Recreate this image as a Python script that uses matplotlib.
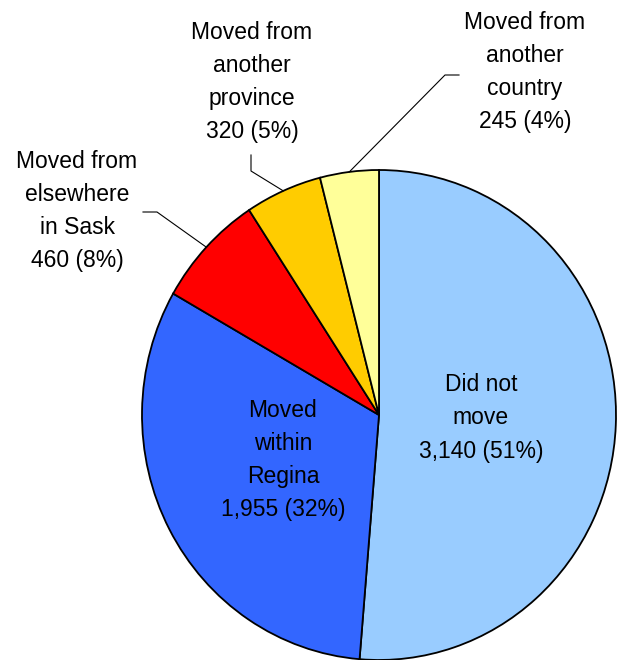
import numpy as np
import matplotlib
matplotlib.use('Agg')
import matplotlib.pyplot as plt

plt.rcParams['font.family'] = ['Liberation Sans', 'DejaVu Sans']

labels = ['Did not\nmove', 'Moved\nwithin\nRegina', 'Moved from\nelsewhere\nin Sask',
          'Moved from\nanother\nprovince', 'Moved from\nanother\ncountry']
values = [3140, 1955, 460, 320, 245]
colors = ['#99CCFF', '#3366FF', '#FF0000', '#FFCC00', '#FFFF99']

total = sum(values)
texts = []
for lab, v in zip(labels, values):
    texts.append(f"{lab}\n{v:,} ({round(v / total * 100)}%)")

fig = plt.figure(figsize=(6.18, 6.6), dpi=100)
# axes sized in pixels so the pie lands where the original is
ax = fig.add_axes([142 / 618, 0, 474 / 618, 490 / 660])
wedges, _ = ax.pie(values, colors=colors, startangle=90, counterclock=False,
                   wedgeprops=dict(edgecolor='black', linewidth=1.3))
ax.set_aspect('auto')
ax.set_xlim(-1, 1)
ax.set_ylim(-1, 1)
ax.axis('off')
for w in wedges:
    w.set_clip_on(False)

fs = 16.5
ls = 1.56

def px(x, y):
    # pixel position in the picture -> data coords of the pie axes
    return (x - 379) / 237, (415 - y) / 245

# labels inside the two big slices
ax.text(*px(481, 418), texts[0], ha='center', va='center', fontsize=fs, linespacing=ls)
ax.text(*px(283, 460), texts[1], ha='center', va='center', fontsize=fs, linespacing=ls)

# outside labels with leader lines
outside = [
    (2, px(77, 211), [px(143, 212), px(157, 212)]),
    (3, px(252, 82), [px(251, 155), px(251, 171)]),
    (4, px(525, 72), [px(459, 75), px(445, 75)]),
]
for i, pos, elbow in outside:
    ax.text(*pos, texts[i], ha='center', va='center', fontsize=fs, linespacing=ls, clip_on=False)
    w = wedges[i]
    mid = np.deg2rad((w.theta1 + w.theta2) / 2)
    edge = (np.cos(mid), np.sin(mid))
    xs = [elbow[0][0], elbow[1][0], edge[0]]
    ys = [elbow[0][1], elbow[1][1], edge[1]]
    ax.plot(xs, ys, color='black', linewidth=0.8, clip_on=False)

fig.savefig('out.png', dpi=100, facecolor='white')
